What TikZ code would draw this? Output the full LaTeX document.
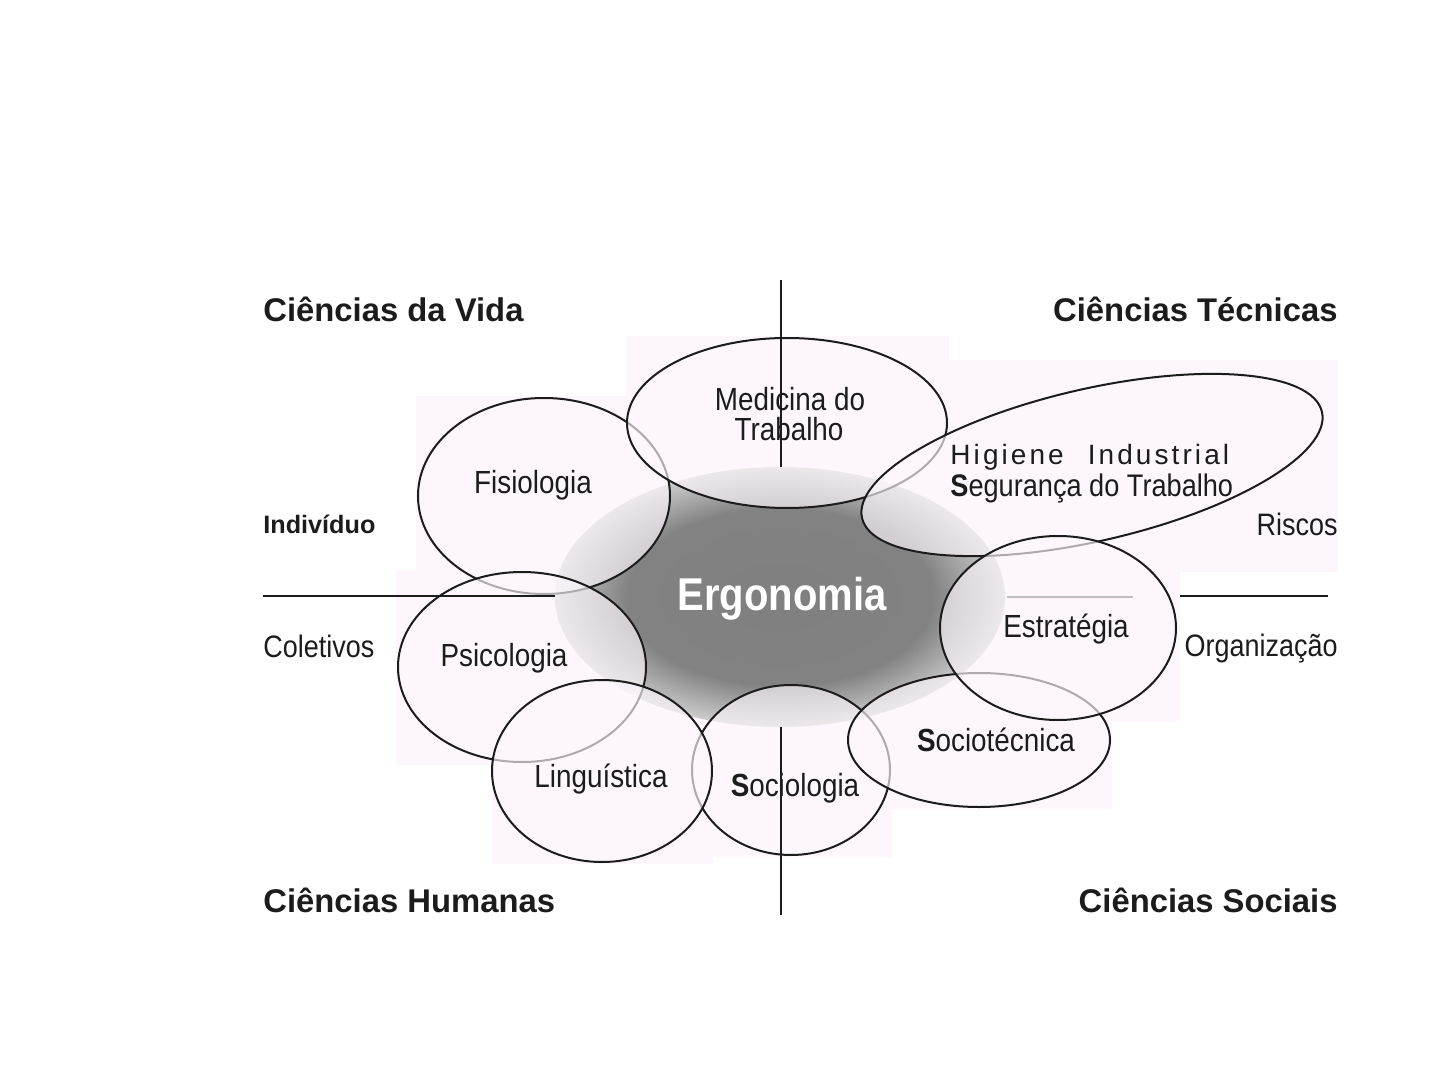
\documentclass[tikz,border=0pt]{standalone}
\usepackage{fontspec}
\setmainfont{Liberation Sans}
\newfontfamily\narrowfont{Liberation Sans}[FakeStretch=0.87]
\newfontfamily\spacedfont{Liberation Sans}[LetterSpace=11]
\definecolor{tint}{RGB}{253,247,253}
\definecolor{ink}{RGB}{28,28,28}
\pgfdeclareradialshading{ergoshade}{\pgfpointorigin}{color(0bp)=(black!50); color(17bp)=(black!49); color(25bp)=(black!20); color(50bp)=(black!20)}
\begin{document}
\begin{tikzpicture}[x=0.5pt,y=-0.5pt,
	blob/.style={draw=ink,line width=1pt,fill=tint,fill opacity=0.65},
	lbl/.style={anchor=base,inner sep=0pt,text=ink,font=\narrowfont\fontsize{16}{18}\selectfont},
	side/.style={inner sep=0pt,text=ink,font=\narrowfont\fontsize{15.5}{18}\selectfont},
	head/.style={inner sep=0pt,text=ink,font=\bfseries\fontsize{16.4}{19}\selectfont},
	axis/.style={draw=ink,line width=1pt}]
	\useasboundingbox[fill=white] (0,0) rectangle (1440,1080);
	\fill[tint] (626,336) rectangle (949,510);
	\fill[tint] (416,396) rectangle (672,596);
	\fill[tint] (948,360) rectangle (1338,572);
	\fill[tint] (396,570) rectangle (648,765);
	\fill[tint] (492,678) rectangle (714,864);
	\fill[tint] (690,684) rectangle (892,857);
	\fill[tint] (846,670) rectangle (1112,809);
	\fill[tint] (938,532) rectangle (1180,722);
	\shade[shading=ergoshade] (780,597) ellipse [x radius=225, y radius=130];
	\draw[blob] (544,496) ellipse [x radius=126, y radius=98];
	\draw[blob] (787,423) ellipse [x radius=160, y radius=85];
	\draw[blob,rotate around={13:(1092,465)}] (1092,465) ellipse [x radius=236, y radius=76];
	\draw[blob] (791,770) ellipse [x radius=99, y radius=85];
	\draw[blob] (979,740) ellipse [x radius=131, y radius=67];
	\draw[blob] (1058,628) ellipse [x radius=118, y radius=92];
	\draw[blob] (522,667) ellipse [x radius=124, y radius=95];
	\draw[blob] (602,771) ellipse [x radius=110, y radius=91];
	\draw[axis] (781,280) -- (781,467);
	\draw[axis] (781,727) -- (781,915);
	\draw[axis] (263,596) -- (555,596);
	\draw[axis] (1180,596) -- (1328,596);
	\draw[black!25,line width=0.6pt] (1007,597) -- (1133,597);
	\node[head,anchor=base west] (vida) at (263,322) {Ciências da Vida};
	\node[head,anchor=base east] (tecn) at (1338,322) {Ciências Técnicas};
	\node[head,anchor=base west] (human) at (263,912) {Ciências Humanas};
	\node[head,anchor=base east] (socia) at (1338,912) {Ciências Sociais};
	\node[inner sep=0pt,anchor=base west,text=ink,font=\bfseries\fontsize{12.6}{15}\selectfont] (indiv) at (263,533) {Indivíduo};
	\node[side,anchor=base west] (colet) at (263,657) {Coletivos};
	\node[side,anchor=base east] (risco) at (1338,535) {Riscos};
	\node[side,anchor=base east] (organ) at (1338,656) {Organização};
	\node[lbl] (medic) at (790,411) {Medicina do};
	\node[lbl] (trab) at (789,441) {Trabalho};
	\node[lbl] (fisio) at (533,494) {Fisiologia};
	\node[lbl,anchor=base west,font=\spacedfont\fontsize{14}{17}\selectfont] (higie) at (950,465) {Higiene\hspace{12pt}Industrial};
	\node[lbl,anchor=base west,font=\narrowfont\fontsize{15.6}{18}\selectfont] (segur) at (950,496) {\textbf{S}egurança do Trabalho};
	\node[lbl] (estra) at (1066,637) {Estratégia};
	\node[lbl] (psico) at (504,666) {Psicologia};
	\node[lbl] (lingu) at (601,787) {Linguística};
	\node[lbl] (socio) at (795,796) {\textbf{S}ociologia};
	\node[lbl] (sotec) at (996,751) {\textbf{S}ociotécnica};
	\node[anchor=base,inner sep=0pt,text=white,font=\narrowfont\bfseries\fontsize{23}{26}\selectfont] (ergo) at (782,610) {Ergonomia};
\end{tikzpicture}
\end{document}
